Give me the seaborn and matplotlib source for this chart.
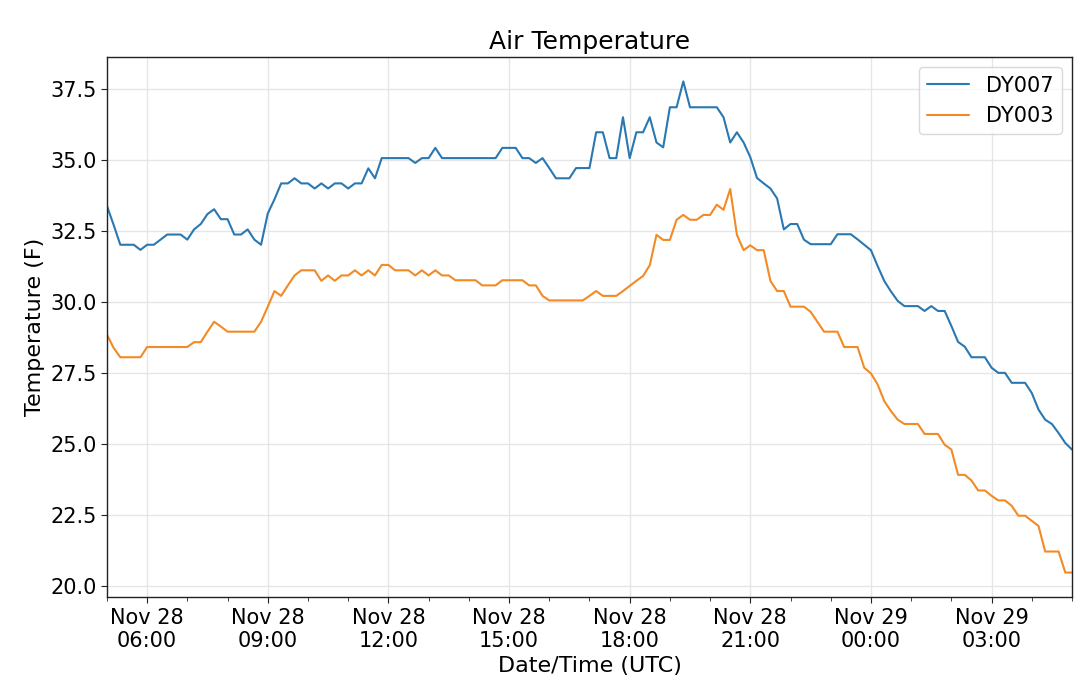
import numpy as np
import pandas as pd
import seaborn as sns
import matplotlib
matplotlib.use("Agg")
import matplotlib.pyplot as plt
import matplotlib.dates as mdates

# 10-minute readings, Nov 28 05:00 -> Nov 29 05:00 (UTC)
start = "2019-11-28 05:00"
n_points = 145

dy007 = [
    33.37, 32.70, 32.00, 32.00, 32.00, 31.82, 32.00, 32.00, 32.18, 32.36,
    32.36, 32.36, 32.18, 32.54, 32.73, 33.08, 33.25, 32.90, 32.90, 32.36,
    32.36, 32.54, 32.18, 32.00, 33.10, 33.60, 34.16, 34.16, 34.34, 34.16,
    34.16, 33.98, 34.16, 33.98, 34.16, 34.16, 33.98, 34.16, 34.16, 34.69,
    34.34, 35.05, 35.05, 35.05, 35.05, 35.05, 34.88, 35.05, 35.05, 35.41,
    35.05, 35.05, 35.05, 35.05, 35.05, 35.05, 35.05, 35.05, 35.05, 35.41,
    35.41, 35.41, 35.05, 35.05, 34.88, 35.05, 34.70, 34.34, 34.34, 34.34,
    34.70, 34.70, 34.70, 35.96, 35.96, 35.05, 35.05, 36.49, 35.05, 35.96,
    35.96, 36.49, 35.60, 35.43, 36.84, 36.84, 37.75, 36.84, 36.84, 36.84,
    36.84, 36.84, 36.49, 35.60, 35.96, 35.60, 35.08, 34.35, 34.16, 33.98,
    33.63, 32.54, 32.73, 32.73, 32.18, 32.02, 32.02, 32.02, 32.02, 32.37,
    32.37, 32.37, 32.19, 32.00, 31.81, 31.25, 30.72, 30.35, 30.02, 29.84,
    29.84, 29.84, 29.67, 29.84, 29.67, 29.67, 29.14, 28.58, 28.41, 28.04,
    28.04, 28.04, 27.67, 27.49, 27.49, 27.14, 27.14, 27.14, 26.78, 26.20,
    25.84, 25.69, 25.37, 25.02, 24.79,
]

dy003 = [
    28.84, 28.37, 28.04, 28.04, 28.04, 28.04, 28.40, 28.40, 28.40, 28.40,
    28.40, 28.40, 28.40, 28.57, 28.57, 28.94, 29.29, 29.12, 28.94, 28.94,
    28.94, 28.94, 28.94, 29.29, 29.82, 30.37, 30.20, 30.57, 30.92, 31.10,
    31.10, 31.10, 30.73, 30.92, 30.73, 30.92, 30.92, 31.10, 30.92, 31.10,
    30.92, 31.29, 31.29, 31.10, 31.10, 31.10, 30.92, 31.10, 30.92, 31.10,
    30.92, 30.92, 30.75, 30.75, 30.75, 30.75, 30.57, 30.57, 30.57, 30.75,
    30.75, 30.75, 30.75, 30.57, 30.57, 30.20, 30.04, 30.04, 30.04, 30.04,
    30.04, 30.04, 30.20, 30.37, 30.20, 30.20, 30.20, 30.37, 30.55, 30.73,
    30.90, 31.28, 32.35, 32.17, 32.17, 32.88, 33.05, 32.88, 32.88, 33.05,
    33.05, 33.41, 33.23, 33.96, 32.35, 31.81, 31.98, 31.81, 31.81, 30.73,
    30.37, 30.37, 29.82, 29.82, 29.82, 29.64, 29.29, 28.94, 28.94, 28.94,
    28.40, 28.40, 28.40, 27.67, 27.47, 27.08, 26.49, 26.14, 25.84, 25.69,
    25.69, 25.69, 25.34, 25.34, 25.34, 24.96, 24.79, 23.90, 23.90, 23.70,
    23.35, 23.35, 23.16, 23.00, 23.00, 22.81, 22.46, 22.46, 22.28, 22.10,
    21.20, 21.20, 21.20, 20.46, 20.46,
]

stations = ["DY007", "DY003"]
colors = ["#2a78b2", "#f28a26"]

times = pd.date_range(start, periods=n_points, freq="10min")
df = pd.concat([
    pd.DataFrame({"time": times, "temp": dy007, "station": "DY007"}),
    pd.DataFrame({"time": times, "temp": dy003, "station": "DY003"}),
])

sns.set_style("ticks", {"text.color": "black", "axes.labelcolor": "black",
                        "xtick.color": "black", "ytick.color": "black"})
plt.rcParams["font.family"] = ["DejaVu Sans"]

fig, ax = plt.subplots(figsize=(10.8, 6.77), dpi=100)
fig.subplots_adjust(left=0.099, right=0.9926, top=0.916, bottom=0.118)

sns.lineplot(data=df, x="time", y="temp", hue="station", hue_order=stations,
             palette=colors, linewidth=1.5, ax=ax)

ax.set_xlim(times[0], times[-1])
ax.margins(y=0.05)

ax.xaxis.set_major_locator(mdates.HourLocator(byhour=range(0, 24, 3)))
ax.xaxis.set_minor_locator(mdates.HourLocator())
ax.xaxis.set_major_formatter(mdates.DateFormatter("%b %d\n%H:%M"))

ax.grid(True, which="major", color="#e6e6e6", linewidth=1)
for s in ax.spines.values():
    s.set_visible(True)
    s.set_color("#222222")
    s.set_linewidth(1)

ax.tick_params(axis="both", which="major", labelsize=15, length=4,
               color="#222222", labelcolor="black")
ax.tick_params(axis="x", which="minor", length=3, color="#222222")

ax.set_title("Air Temperature", fontsize=18, color="black")
ax.set_xlabel("Date/Time (UTC)", fontsize=16, color="black")
ax.set_ylabel("Temperature (F)", fontsize=16, color="black")

leg = ax.legend(loc="upper right", fontsize=15, frameon=True)
leg.get_frame().set_edgecolor("#d0d0d0")
for t in leg.get_texts():
    t.set_color("black")

fig.savefig("out.png", dpi=100)
